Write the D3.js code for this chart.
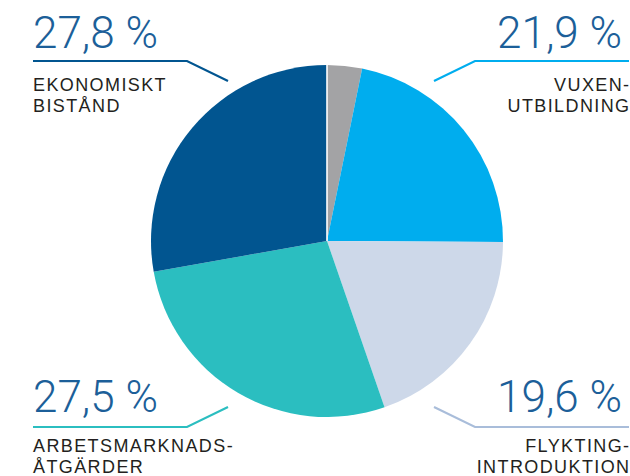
<!DOCTYPE html>
<html>
<head>
<meta charset="utf-8">
<script src="https://cdn.jsdelivr.net/npm/d3@7"></script>
<style>
  html, body { margin: 0; padding: 0; background: #ffffff; }
  svg { display: block; }
</style>
</head>
<body>
<svg id="chart" width="630" height="476"></svg>
<script>
// Shares of spending, clockwise from twelve o'clock
const categories = ["Övrigt", "Vuxenutbildning", "Flyktingintroduktion", "Arbetsmarknadsåtgärder", "Ekonomiskt bistånd"];
const shares = [3.2, 21.9, 19.6, 27.5, 27.8];
const percentLabels = ["", "21,9 %", "19,6 %", "27,5 %", "27,8 %"];
const nameLines = [[], ["VUXEN-", "UTBILDNING"], ["FLYKTING-", "INTRODUKTION"], ["ARBETSMARKNADS-", "ÅTGÄRDER"], ["EKONOMISKT", "BISTÅND"]];
const sliceColors = ["#a3a3a5", "#00adee", "#cdd8e9", "#2bbec0", "#015590"];
const leaderColors = [null, "#00adee", "#a9bdda", "#2bbec0", "#015590"];

const W = 630, H = 476;
const cx = 327, cy = 241, radius = 176;

// Callout placement for each labelled slice: side and vertical band
const calloutPlace = [null,
  { side: "right", band: "top" },
  { side: "right", band: "bottom" },
  { side: "left",  band: "bottom" },
  { side: "left",  band: "top" }];

const svg = d3.select("#chart");

const data = categories.map((c, i) => ({ name: c, value: shares[i], i }));
const pie = d3.pie().sort(null).value(d => d.value);
const arc = d3.arc().innerRadius(0).outerRadius(radius);
const arcs = pie(data);

const g = svg.append("g").attr("transform", `translate(${cx},${cy})`);
g.selectAll("path.slice")
  .data(arcs)
  .join("path")
  .attr("class", "slice")
  .attr("d", arc)
  .attr("fill", d => sliceColors[d.data.i]);

// thin white seam where the circle starts
const a0 = arcs[0].startAngle;
g.append("line")
  .attr("x1", 0).attr("y1", 0)
  .attr("x2", Math.sin(a0) * (radius + 1))
  .attr("y2", -Math.cos(a0) * (radius + 1))
  .attr("stroke", "#ffffff")
  .attr("stroke-width", 1.6);

// Callouts: percentage, leader line, category name
const leftX = 33, rightX = 629;
const elbowOffset = 154;    // horizontal run of the leader
const layout = {
  top:    { numY: 48,  lineY: 61,  tipY: 81,  nameY: [91, 112] },
  bottom: { numY: 412, lineY: 427, tipY: 407, nameY: [452, 473] }
};
const tipDX = { left: 41, right: 41 };

arcs.forEach(a => {
  const i = a.data.i;
  const place = calloutPlace[i];
  if (!place) return;
  const L = layout[place.band];
  const isLeft = place.side === "left";
  const endX = isLeft ? leftX : rightX;
  const elbowX = isLeft ? leftX + elbowOffset : rightX - elbowOffset;
  const tipX = isLeft ? elbowX + tipDX.left : elbowX - tipDX.right;

  svg.append("polyline")
    .attr("points", `${endX},${L.lineY} ${elbowX},${L.lineY} ${tipX},${L.tipY}`)
    .attr("fill", "none")
    .attr("stroke", leaderColors[i])
    .attr("stroke-width", 2.2);

  svg.append("text")
    .attr("x", isLeft ? endX : 622)
    .attr("y", L.numY)
    .attr("text-anchor", isLeft ? "start" : "end")
    .attr("font-family", "Roboto, 'Helvetica Neue', Arial, sans-serif")
    .attr("font-weight", 300)
    .attr("font-size", 44)
    .attr("fill", "#1c5f99")
    .text(percentLabels[i]);

  nameLines[i].forEach((t, k) => {
    svg.append("text")
      .attr("x", isLeft ? endX : endX + 1.5)
      .attr("y", L.nameY[k])
      .attr("text-anchor", isLeft ? "start" : "end")
      .attr("font-family", "'Liberation Sans', Arial, sans-serif")
      .attr("font-size", 18)
      .attr("letter-spacing", 1.4)
      .attr("fill", "#231f20")
      .text(t);
  });
});
</script>
</body>
</html>
